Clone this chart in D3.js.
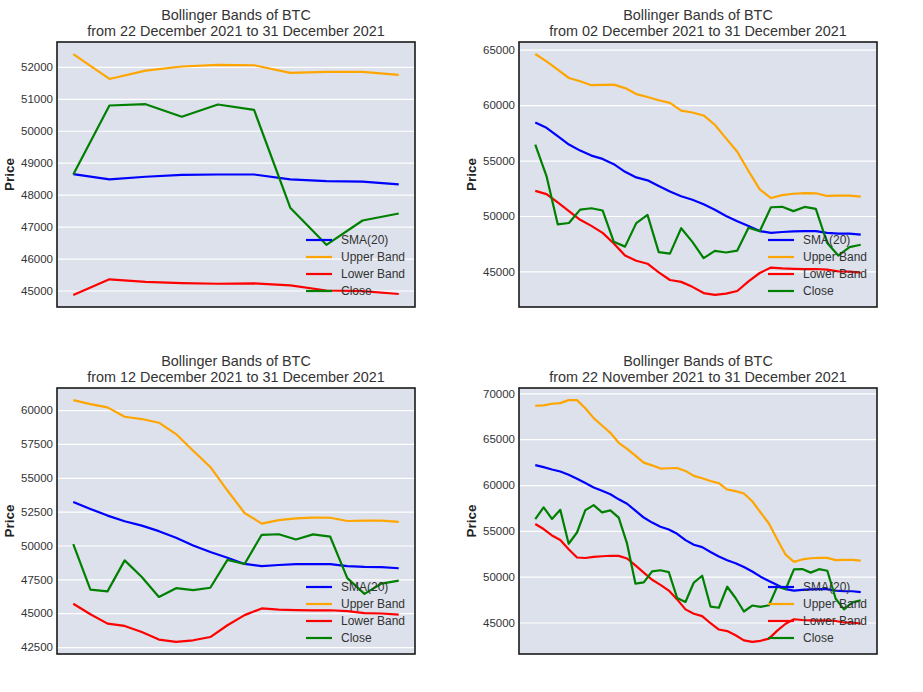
<!DOCTYPE html>
<html>
<head>
<meta charset="utf-8">
<script src="https://cdn.jsdelivr.net/npm/d3@7"></script>
<style>
  body { margin: 0; background: #fff; }
  svg { display: block; font-family: "Liberation Sans", Arial, sans-serif; }
</style>
</head>
<body>
<svg id="chart" width="923" height="692"></svg>
<script>
// daily values 22 Nov 2021 .. 31 Dec 2021 (40 days)
const closePrice = [
  56290, 57570, 56300, 57290, 53590, 54820, 57260, 57810, 57010, 57240,
  56450, 53600, 49250, 49370, 50580, 50700, 50500, 47670, 47240, 49360,
  50100, 46740, 46610, 48900, 47670, 46200, 46850, 46710, 46880, 48940,
  48630, 50790, 50830, 50440, 50820, 50650, 47590, 46430, 47190, 47410
];
const sma20 = [
  62180, 61960, 61700, 61480, 61130, 60680, 60220, 59740, 59380, 59000,
  58440, 57960, 57200, 56450, 55900, 55450, 55150, 54680, 53990, 53480,
  53220, 52700, 52210, 51790, 51470, 51060, 50570, 50000, 49520, 49090,
  48640, 48480, 48560, 48620, 48630, 48630, 48480, 48420, 48410, 48320
];
const upperBand = [
  68650, 68700, 68870, 68940, 69270, 69270, 68380, 67300, 66500, 65700,
  64610, 63950, 63200, 62450, 62150, 61800, 61830, 61850, 61540, 61000,
  60740, 60440, 60200, 59510, 59340, 59070, 58230, 57000, 55800, 54060,
  52400, 51620, 51880, 52010, 52060, 52050, 51810, 51840, 51840, 51750
];
const lowerBand = [
  55750, 55200, 54500, 54000, 53000, 52090, 52040, 52160, 52230, 52280,
  52270, 51980, 51230, 50450, 49660, 49110, 48480, 47520, 46430, 45960,
  45700, 44920, 44230, 44060, 43610, 43050, 42880, 43000, 43240, 44110,
  44860, 45350, 45270, 45230, 45210, 45220, 45160, 45000, 44980, 44890
];

const seriesNames = ["SMA(20)", "Upper Band", "Lower Band", "Close"];
const seriesColors = ["blue", "orange", "red", "green"];

const panelTitles = [
  "from 22 December 2021 to 31 December 2021",
  "from 02 December 2021 to 31 December 2021",
  "from 12 December 2021 to 31 December 2021",
  "from 22 November 2021 to 31 December 2021"
];
const panelStart = [30, 10, 20, 0];
const panelTicks = [
  [45000, 46000, 47000, 48000, 49000, 50000, 51000, 52000],
  [45000, 50000, 55000, 60000, 65000],
  [42500, 45000, 47500, 50000, 52500, 55000, 57500, 60000],
  [45000, 50000, 55000, 60000, 65000, 70000]
];

const svg = d3.select("#chart");
const boxes = [
  { x: 57, y: 42, w: 358, h: 265 },
  { x: 519, y: 42, w: 358, h: 265 },
  { x: 57, y: 388, w: 358, h: 266 },
  { x: 519, y: 388, w: 358, h: 266 }
];

const allSeries = [sma20, upperBand, lowerBand, closePrice];

boxes.forEach((b, p) => {
  const s = panelStart[p];
  const lines = allSeries.map((arr) => arr.slice(s));
  const n = lines[0].length;

  const ymin = d3.min(lines, (l) => d3.min(l));
  const ymax = d3.max(lines, (l) => d3.max(l));
  const ypad = (ymax - ymin) * 0.05;
  const x = d3.scaleLinear().domain([-(n - 1) * 0.05, (n - 1) * 1.05]).range([0, b.w]);
  const y = d3.scaleLinear().domain([ymin - ypad, ymax + ypad]).range([b.h, 0]);

  const g = svg.append("g").attr("transform", `translate(${b.x}, ${b.y})`);

  g.append("rect")
    .attr("width", b.w)
    .attr("height", b.h)
    .attr("fill", "#dce1ec");

  // grid + tick labels
  const yAxis = d3.axisLeft(y).tickValues(panelTicks[p]).tickSize(-b.w).tickPadding(4).tickFormat(d3.format("d"));
  const ax = g.append("g").call(yAxis);
  ax.select(".domain").remove();
  ax.selectAll(".tick line").attr("stroke", "#fff").attr("stroke-width", 1.2);
  ax.selectAll(".tick text")
    .attr("x", -4)
    .attr("fill", "#333")
    .style("font-size", "11.5px")
    .style("font-family", "Liberation Sans, Arial, sans-serif");

  const line = d3.line().x((d, i) => x(i)).y((d) => y(d));
  lines.forEach((l, k) => {
    g.append("path")
      .datum(l)
      .attr("d", line)
      .attr("fill", "none")
      .attr("stroke", seriesColors[k])
      .attr("stroke-width", 2.2)
      .attr("stroke-linejoin", "round");
  });

  g.append("rect")
    .attr("width", b.w)
    .attr("height", b.h)
    .attr("fill", "none")
    .attr("stroke", "#1a1a1a")
    .attr("stroke-width", 1.6);

  // legend, lower right, no frame
  const lg = g.append("g").attr("transform", `translate(${b.w - 109}, ${b.h - 67})`);
  seriesNames.forEach((name, k) => {
    lg.append("line")
      .attr("x1", 0).attr("x2", 26)
      .attr("y1", k * 17).attr("y2", k * 17)
      .attr("stroke", seriesColors[k])
      .attr("stroke-width", 2.2);
    lg.append("text")
      .attr("x", 35)
      .attr("y", k * 17)
      .attr("dy", "0.35em")
      .attr("fill", "#333")
      .style("font-size", "12px")
      .text(name);
  });

  // titles
  g.append("text")
    .attr("x", b.w / 2)
    .attr("y", -22)
    .attr("text-anchor", "middle")
    .attr("fill", "#333")
    .style("font-size", "14.4px")
    .text("Bollinger Bands of BTC");
  g.append("text")
    .attr("x", b.w / 2)
    .attr("y", -6)
    .attr("text-anchor", "middle")
    .attr("fill", "#333")
    .style("font-size", "14.4px")
    .text(panelTitles[p]);

  g.append("text")
    .attr("transform", `translate(${9.5 - b.x + (b.x > 300 ? 462 : 0)}, ${b.h / 2}) rotate(-90)`)
    .attr("text-anchor", "middle")
    .attr("dy", "0.35em")
    .attr("fill", "#222")
    .style("font-size", "13.5px")
    .style("font-weight", "bold")
    .text("Price");
});
</script>
</body>
</html>
